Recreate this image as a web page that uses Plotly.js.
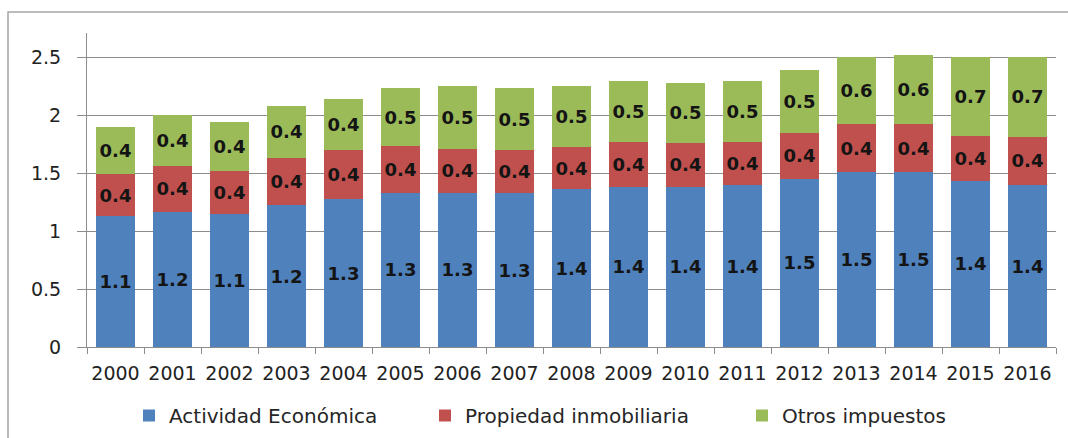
<!DOCTYPE html>
<html>
<head>
<meta charset="utf-8">
<script src="https://cdn.plot.ly/plotly-3.0.1.min.js"></script>
<style>
  html, body { margin: 0; padding: 0; background: #ffffff; }
  #chart { width: 1068px; height: 438px; }
</style>
</head>
<body>
<div id="chart"></div>
<script>
// Recaudación por tipo de impuesto, 2000-2016
const years = ['2000', '2001', '2002', '2003', '2004', '2005', '2006', '2007', '2008',
               '2009', '2010', '2011', '2012', '2013', '2014', '2015', '2016'];

const actividadEconomica    = [1.13, 1.167, 1.144, 1.224, 1.276, 1.333, 1.333, 1.325, 1.36,
                               1.382, 1.382, 1.397, 1.454, 1.51, 1.51, 1.434, 1.397];
const propiedadInmobiliaria = [0.36, 0.396, 0.373, 0.41, 0.424, 0.402, 0.377, 0.371, 0.363,
                               0.39, 0.378, 0.375, 0.396, 0.412, 0.412, 0.39, 0.419];
const otrosImpuestos        = [0.41, 0.437, 0.428, 0.446, 0.44, 0.5, 0.544, 0.537, 0.533,
                               0.525, 0.52, 0.525, 0.54, 0.578, 0.594, 0.676, 0.684];

const seriesNames  = ['Actividad Económica', 'Propiedad inmobiliaria', 'Otros impuestos'];
const seriesColors = ['#4f81bd', '#c0504d', '#9bbb59'];
const seriesValues = [actividadEconomica, propiedadInmobiliaria, otrosImpuestos];
const legendWidths = [251, 272, 190];

const FONT = 'DejaVu Sans, Verdana, sans-serif';

const traces = seriesValues.map((vals, i) => ({
  type: 'bar',
  name: seriesNames[i],
  x: years,
  y: vals,
  marker: { color: seriesColors[i], line: { width: 0 } },
  texttemplate: '%{y:.1f}',
  textposition: 'inside',
  insidetextanchor: 'middle',
  textangle: 0,
  constraintext: 'none',
  textfont: { family: FONT, size: 18, color: '#141414', weight: 'bold' },
  legendwidth: legendWidths[i],
  hoverinfo: 'x+y+name'
}));

// plot area geometry in pixels, used to place the legend and the outer frame
const L = 87, R = 12, T = 33, B = 91;
const W = 1068, H = 438;
const pw = W - L - R, ph = H - T - B;
const px = v => (v - L) / pw;
const py = v => (H - B - v) / ph;

const layout = {
  width: W,
  height: H,
  margin: { l: L, r: R, t: T, b: B, pad: 0 },
  paper_bgcolor: '#ffffff',
  plot_bgcolor: '#ffffff',
  barmode: 'stack',
  bargap: 0.31,
  font: { family: FONT, color: '#222222' },
  showlegend: true,
  legend: {
    orientation: 'h',
    x: px(129),
    xanchor: 'left',
    yref: 'container',
    y: 3 / H,
    yanchor: 'bottom',
    font: { family: FONT, size: 20, color: '#262626' },
    bgcolor: 'rgba(0,0,0,0)',
    traceorder: 'normal'
  },
  xaxis: {
    type: 'category',
    showgrid: false,
    showline: true,
    linecolor: '#8c8c8c',
    linewidth: 1,
    ticks: 'outside',
    tickson: 'boundaries',
    ticklen: 6,
    tickcolor: '#8c8c8c',
    tickangle: 0,
    tickfont: { family: FONT, size: 19, color: '#222222' },
    ticklabelstandoff: 9,
    automargin: false,
    fixedrange: true
  },
  yaxis: {
    range: [0, 2.71],
    tick0: 0,
    dtick: 0.5,
    showgrid: true,
    gridcolor: '#8c8c8c',
    gridwidth: 1,
    zeroline: false,
    showline: true,
    linecolor: '#8c8c8c',
    linewidth: 1,
    ticks: 'outside',
    ticklen: 9,
    tickcolor: '#8c8c8c',
    tickfont: { family: FONT, size: 19, color: '#222222' },
    ticklabelstandoff: 12,
    automargin: false,
    fixedrange: true
  },
  shapes: [{
    type: 'rect',
    xref: 'paper', yref: 'paper',
    x0: px(8), x1: px(1120),
    y0: py(480), y1: py(12),
    line: { color: '#a6a6a6', width: 1.5 },
    fillcolor: 'rgba(0,0,0,0)',
    layer: 'below'
  }]
};

Plotly.newPlot('chart', traces, layout, { displayModeBar: false, staticPlot: true });
</script>
</body>
</html>
